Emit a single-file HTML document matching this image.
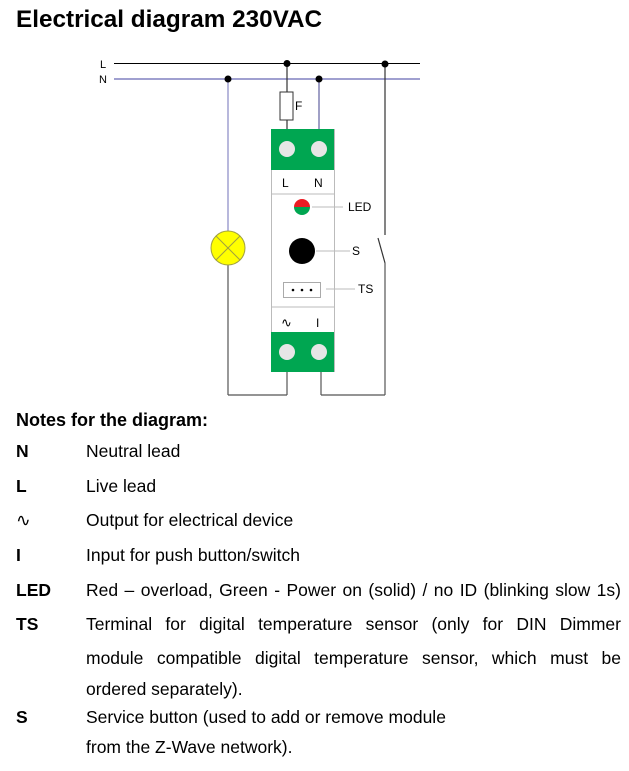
<!DOCTYPE html>
<html><head><meta charset="utf-8"><style>
body{margin:0;width:629px;height:771px;background:#fff;position:relative;font-family:"Liberation Sans",Arial,sans-serif;color:#000;overflow:hidden}
.t{position:absolute;white-space:nowrap;font-size:17.5px;line-height:20px}
.b{font-weight:bold}
.j{position:absolute;left:86px;width:535px;font-size:17.5px;line-height:20px;text-align:justify;text-align-last:justify;white-space:nowrap}
</style></head><body>
<div class="t b" style="left:16px;top:6px;font-size:24.3px;line-height:28px">Electrical diagram 230VAC</div>
<svg width="629" height="400" style="position:absolute;left:0;top:0" font-family="Liberation Sans, Arial, sans-serif">
<text x="100" y="68" font-size="11">L</text>
<text x="99" y="83" font-size="11">N</text>
<line x1="114" y1="63.5" x2="420" y2="63.5" stroke="#000" stroke-width="1"/>
<line x1="114" y1="79" x2="420" y2="79" stroke="#a0a0d0" stroke-width="2"/>
<line x1="228" y1="79" x2="228" y2="231" stroke="#a0a0d0" stroke-width="1.5"/>
<line x1="228" y1="265" x2="228" y2="395" stroke="#555" stroke-width="1.2"/>
<line x1="228" y1="395" x2="287" y2="395" stroke="#555" stroke-width="1.2"/>
<line x1="287" y1="372" x2="287" y2="395" stroke="#555" stroke-width="1.2"/>
<line x1="321" y1="372" x2="321" y2="395" stroke="#555" stroke-width="1.2"/>
<line x1="321" y1="395" x2="385" y2="395" stroke="#555" stroke-width="1.2"/>
<line x1="385" y1="64" x2="385" y2="235" stroke="#333" stroke-width="1.2"/>
<line x1="378" y1="238" x2="385" y2="263" stroke="#333" stroke-width="1.2"/>
<line x1="385" y1="263" x2="385" y2="395" stroke="#555" stroke-width="1.2"/>
<line x1="287" y1="64" x2="287" y2="129" stroke="#333" stroke-width="1.2"/>
<rect x="280" y="92" width="13" height="28" fill="#fff" stroke="#333" stroke-width="1"/>
<text x="295" y="110" font-size="12">F</text>
<line x1="319" y1="79" x2="319" y2="129" stroke="#6060a0" stroke-width="1.2"/>
<circle cx="287" cy="63.5" r="3.5"/><circle cx="385" cy="64" r="3.5"/>
<circle cx="228" cy="79" r="3.5"/><circle cx="319" cy="79" r="3.5"/>
<circle cx="228" cy="248" r="17" fill="#ffff00" stroke="#a0a040" stroke-width="1"/>
<line x1="216" y1="236" x2="240" y2="260" stroke="#a0a040"/><line x1="240" y1="236" x2="216" y2="260" stroke="#a0a040"/>
<rect x="271.5" y="129.5" width="63" height="242" fill="#fff" stroke="#bbb"/>
<rect x="271" y="129" width="63" height="41" fill="#00a651"/>
<rect x="271" y="332" width="63" height="40" fill="#00a651"/>
<line x1="271" y1="194" x2="334" y2="194" stroke="#bbb"/>
<line x1="271" y1="307" x2="334" y2="307" stroke="#bbb"/>
<circle cx="287" cy="149" r="8" fill="#e6e6e6"/><circle cx="319" cy="149" r="8" fill="#e6e6e6"/>
<circle cx="287" cy="352" r="8" fill="#e6e6e6"/><circle cx="319" cy="352" r="8" fill="#e6e6e6"/>
<text x="282" y="187" font-size="12">L</text><text x="314" y="187" font-size="12">N</text>
<text x="281" y="327" font-size="13">∿</text><text x="316" y="327" font-size="12">I</text>
<path d="M294,207 a8,8 0 0 1 16,0 z" fill="#ed1c24"/><path d="M294,207 a8,8 0 0 0 16,0 z" fill="#00a651"/>
<line x1="312" y1="207" x2="343" y2="207" stroke="#bbb"/>
<text x="348" y="211" font-size="12">LED</text>
<circle cx="302" cy="251" r="13" fill="#000"/>
<line x1="316" y1="251" x2="350" y2="251" stroke="#bbb"/>
<text x="352" y="255" font-size="12">S</text>
<rect x="283.5" y="282.5" width="37" height="15" fill="#fff" stroke="#aaa"/>
<circle cx="293" cy="290" r="1.3"/><circle cx="302" cy="290" r="1.3"/><circle cx="311" cy="290" r="1.3"/>
<line x1="326" y1="289" x2="355" y2="289" stroke="#bbb"/>
<text x="358" y="293" font-size="12">TS</text>
</svg>
<div class="t b" style="left:16px;top:410px;font-size:18px">Notes for the diagram:</div>
<div class="t b" style="left:16px;top:441px">N</div><div class="t" style="left:86px;top:441px">Neutral lead</div>
<div class="t b" style="left:16px;top:476px">L</div><div class="t" style="left:86px;top:476px">Live lead</div>
<div class="t" style="left:16px;top:510px">∿</div><div class="t" style="left:86px;top:510px">Output for electrical device</div>
<div class="t b" style="left:16px;top:545px">I</div><div class="t" style="left:86px;top:545px">Input for push button/switch</div>
<div class="t b" style="left:16px;top:580px">LED</div><div class="j" style="top:580px">Red – overload, Green - Power on (solid) / no ID (blinking slow 1s)</div>
<div class="t b" style="left:16px;top:614px">TS</div>
<div class="j" style="top:614px">Terminal for digital temperature sensor (only for DIN Dimmer</div>
<div class="j" style="top:648px">module compatible digital temperature sensor, which must be</div>
<div class="t" style="left:86px;top:679px">ordered separately).</div>
<div class="t b" style="left:16px;top:707px">S</div><div class="t" style="left:86px;top:707px">Service button (used to add or remove module</div>
<div class="t" style="left:86px;top:737px">from the Z-Wave network).</div>
</body></html>
